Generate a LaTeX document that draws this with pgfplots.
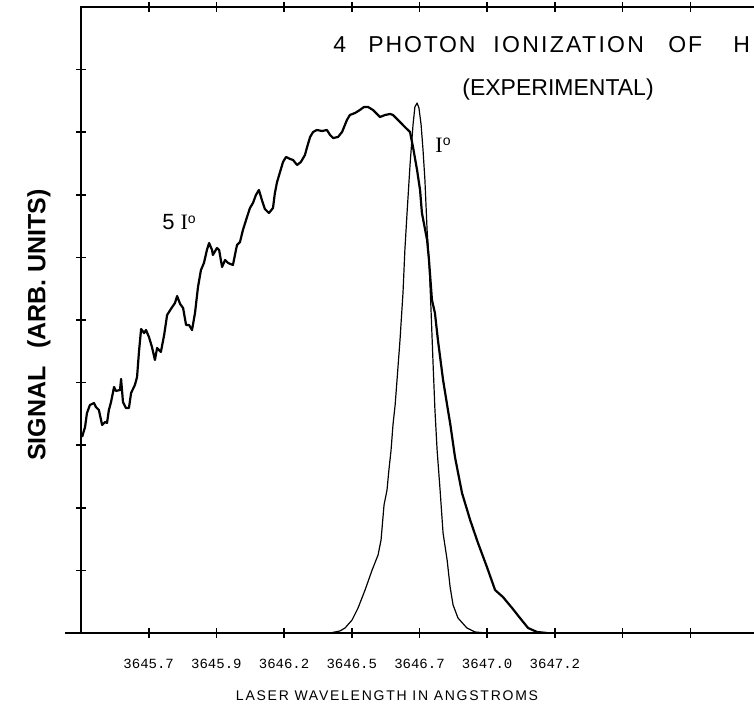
\documentclass[border=0pt]{standalone}
\usepackage{pgfplots}
\pgfplotsset{compat=1.18}
\usepackage{fontspec}
\setmainfont{Liberation Sans}
\newfontfamily\plotserif{Liberation Serif}
\newfontfamily\tickfont{Liberation Mono}
\newfontfamily\spacedsans{Liberation Sans}[LetterSpace=12.5]
\newfontfamily\titlesans{Liberation Sans}[LetterSpace=8]
\newfontfamily\widesans{Liberation Sans}[LetterSpace=10]

\pgfplotstableread{
lambda signal
3645.454 3.131
3645.465 3.291
3645.472 3.514
3645.483 3.642
3645.498 3.674
3645.505 3.610
3645.516 3.562
3645.528 3.323
3645.539 3.371
3645.546 3.355
3645.553 3.562
3645.561 3.690
3645.572 3.930
3645.579 3.866
3645.594 3.882
3645.598 4.058
3645.605 3.690
3645.616 3.594
3645.627 3.594
3645.635 3.834
3645.649 3.962
3645.657 4.089
3645.664 4.489
3645.672 4.856
3645.683 4.792
3645.690 4.840
3645.701 4.728
3645.712 4.569
3645.723 4.361
3645.731 4.553
3645.745 4.489
3645.757 4.760
3645.768 5.080
3645.782 5.176
3645.797 5.272
3645.805 5.383
3645.816 5.256
3645.827 5.192
3645.838 4.920
3645.849 4.920
3645.860 4.840
3645.871 5.112
3645.882 5.527
3645.893 5.799
3645.904 5.911
3645.915 6.118
3645.923 6.230
3645.934 6.118
3645.937 6.038
3645.952 6.150
3645.960 6.118
3645.971 5.847
3645.982 5.958
3645.993 5.911
3646.011 5.879
3646.026 6.198
3646.037 6.246
3646.048 6.438
3646.063 6.645
3646.074 6.789
3646.085 6.869
3646.096 6.997
3646.107 7.077
3646.118 6.917
3646.129 6.773
3646.144 6.709
3646.159 6.789
3646.166 7.029
3646.174 7.204
3646.185 7.364
3646.196 7.524
3646.207 7.604
3646.222 7.572
3646.233 7.556
3646.248 7.476
3646.262 7.524
3646.277 7.636
3646.285 7.764
3646.296 7.923
3646.307 8.003
3646.321 8.035
3646.340 8.019
3646.358 8.035
3646.370 7.955
3646.381 7.907
3646.399 7.923
3646.414 8.003
3646.432 8.195
3646.443 8.275
3646.462 8.307
3646.480 8.355
3646.495 8.403
3646.510 8.403
3646.528 8.355
3646.554 8.243
3646.573 8.275
3646.591 8.291
3646.602 8.275
3646.628 8.163
3646.646 8.083
3646.665 8.003
3646.676 7.764
3646.691 7.396
3646.702 7.077
3646.709 6.709
3646.728 6.278
3646.735 5.958
3646.746 5.319
3646.757 5.112
3646.768 4.681
3646.787 4.042
3646.805 3.562
3646.813 3.355
3646.831 2.812
3646.857 2.236
3646.887 1.805
3646.916 1.438
3646.949 1.054
3646.979 0.687
3647.008 0.575
3647.042 0.399
3647.071 0.240
3647.101 0.080
3647.134 0.016
3647.171 0.000
}\fiveI

\pgfplotstableread{
lambda signal
3646.370 0.000
3646.406 0.032
3646.425 0.080
3646.451 0.208
3646.473 0.399
3646.499 0.687
3646.525 1.006
3646.547 1.246
3646.558 1.486
3646.569 2.045
3646.580 2.284
3646.587 2.604
3646.595 2.923
3646.602 3.323
3646.610 3.642
3646.617 4.042
3646.628 4.681
3646.639 5.431
3646.646 6.118
3646.654 6.709
3646.665 7.476
3646.676 8.115
3646.683 8.403
3646.691 8.466
3646.698 8.387
3646.706 8.115
3646.713 7.716
3646.720 7.236
3646.728 6.438
3646.735 5.958
3646.743 5.112
3646.750 4.313
3646.757 3.562
3646.765 2.923
3646.776 2.284
3646.787 1.597
3646.802 1.166
3646.813 0.735
3646.824 0.447
3646.842 0.240
3646.875 0.080
3646.905 0.016
3646.949 0.000
}\oneI

\begin{document}
\begin{tikzpicture}
\begin{axis}[
  at={(40.5pt,36.5pt)}, anchor=south west,
  scale only axis, width=338.5pt, height=313pt,
  xmin=3645.45, xmax=3647.95, ymin=0, ymax=10,
  axis line style={line width=1pt},
  xtick={3645.70,3645.95,3646.20,3646.45,3646.70,3646.95,3647.20,3647.45,3647.70},
  xticklabels={3645.7,3645.9,3646.2,3646.5,3646.7,3647.0,3647.2,{},{}},
  ytick={1,2,3,4,5,6,7,8,9},
  yticklabels={},
  ytick pos=left,
  tick align=center,
  major tick length=5pt,
  tick style={line width=0.8pt, black},
  xticklabel style={font=\tickfont\fontsize{7}{8}\selectfont, yshift=-7pt},
]
\addplot[line width=1.1pt, black, line join=round] table[x=lambda, y=signal] {\fiveI};
\addplot[line width=0.6pt, black, line join=round] table[x=lambda, y=signal] {\oneI};
\end{axis}
\draw[line width=1.2pt] (40.5pt,36.5pt) -- (32.5pt,36.5pt);
\begin{scope}[every node/.style={anchor=base west, inner sep=0pt, font=\titlesans\fontsize{11.5}{13}\selectfont}]
\node at (166.5pt,326.5pt) {4};
\node at (184pt,326.5pt) {PHOTON};
\node[font=\widesans\fontsize{11.5}{13}\selectfont] at (246.5pt,326.5pt) {IONIZATION};
\node at (334pt,326.5pt) {OF};
\node at (366.5pt,326.5pt) {H};
\end{scope}
\node[anchor=base west, inner sep=0pt, font=\fontsize{11.5}{13}\selectfont] at (231pt,305pt) {(EXPERIMENTAL)};
\node[rotate=90, inner sep=0pt, font=\bfseries\fontsize{12.5}{14}\selectfont] at (19.5pt,190.5pt) {SIGNAL\hspace{0.7em}(ARB. UNITS)};
\node[anchor=base, inner sep=0pt, font=\spacedsans\fontsize{7}{8}\selectfont] at (193.5pt,3pt) {LASER WAVELENGTH IN ANGSTROMS};
\node[inner sep=0pt, font=\fontsize{11}{13}\selectfont] at (89.5pt,242pt) {5\hspace{3pt}{\plotserif I}\raisebox{0.55ex}{\scriptsize o}};
\node[inner sep=0pt, font=\fontsize{11}{13}\selectfont] at (221.5pt,280.5pt) {{\plotserif I}\raisebox{0.55ex}{\scriptsize o}};
\pgfresetboundingbox
\useasboundingbox (0,0) rectangle (377pt,353pt);
\end{tikzpicture}
\end{document}
